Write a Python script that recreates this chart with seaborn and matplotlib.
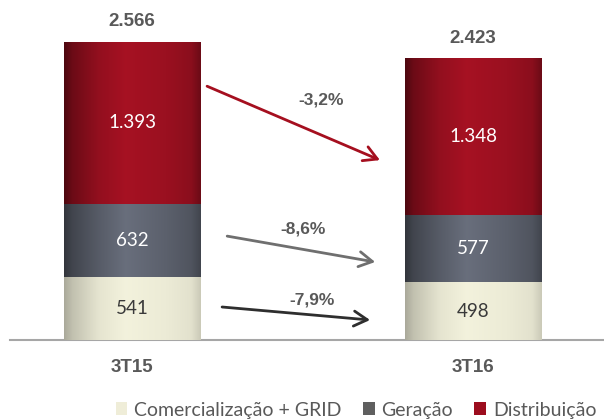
import numpy as np
import pandas as pd
import matplotlib
matplotlib.use("Agg")
import matplotlib.pyplot as plt
import matplotlib.colors as mcolors
from matplotlib.patches import Patch
import seaborn as sns

# ---- data ----
categories = ["3T15", "3T16"]
comercializacao = [541, 498]
geracao = [632, 577]
distribuicao = [1393, 1348]
totals = ["2.566", "2.423"]
comercializacao_labels = ["541", "498"]
geracao_labels = ["632", "577"]
distribuicao_labels = ["1.393", "1.348"]
series_names = ["Comercialização + GRID", "Geração", "Distribuição"]
pct_labels = ["-7,9%", "-8,6%", "-3,2%"]

sns.set_theme(style="white")
plt.rcParams['font.family'] = ['Lato', 'DejaVu Sans']

colors = ["#ecebd6", "#5b606c", "#9a1020"]
legend_colors = ["#efedd8", "#5f5f5f", "#9c0d1e"]

fig = plt.figure(figsize=(6.04, 4.19), dpi=100)
W, H = 604, 419
ax = fig.add_axes([10 / W, (H - 340) / H, 594 / W, 340 / H])

df = pd.DataFrame({
    "cat": categories,
    "c1": comercializacao,
    "c2": np.array(comercializacao) + np.array(geracao),
    "c3": np.array(comercializacao) + np.array(geracao) + np.array(distribuicao),
})

layers = ["c3", "c2", "c1"]
layer_colors = [colors[2], colors[1], colors[0]]

# brightness profile for cylinder effect
t = np.linspace(0, 1, 200)
prof_x = [0.0, 0.06, 0.25, 0.45, 0.75, 0.93, 1.0]
profiles = {
    colors[2]: [0.5, 0.7, 0.95, 1.08, 1.0, 0.9, 0.7],
    colors[1]: [0.55, 0.72, 0.95, 1.15, 1.0, 0.88, 0.72],
    colors[0]: [0.72, 0.82, 0.97, 1.03, 1.0, 0.96, 0.86],
}

for i, (col, c) in enumerate(zip(layers, layer_colors)):
    n_before = len(ax.patches)
    sns.barplot(data=df, x="cat", y=col, color=c, width=0.4, ax=ax,
                saturation=1, zorder=2 + i * 2, linewidth=0)
    base = np.array(mcolors.to_rgb(c))
    prof = np.interp(t, prof_x, profiles[c])
    img = np.clip(base[None, :] * prof[:, None], 0, 1)[None, :, :]
    for p in ax.patches[n_before:]:
        x0, y0 = p.get_x(), p.get_y()
        w, h = p.get_width(), p.get_height()
        im = ax.imshow(img, extent=[x0, x0 + w, y0, y0 + h], aspect="auto",
                       zorder=2 + i * 2 + 0.5, interpolation="bilinear")
        im.set_clip_path(p)

ax.set_xlim(-0.358, 1.384)
ax.set_ylim(0, 2926)
ax.set_xlabel("")
ax.set_ylabel("")
ax.set_yticks([])
ax.set_xticks([0, 1])
ax.set_xticklabels(categories, fontsize=13.5, fontweight="bold", color="#595959",
                   family=["Liberation Sans"])
ax.tick_params(axis="x", length=0, pad=14)
ax.set_xticks([0.5], minor=True)
ax.tick_params(axis="x", which="minor", length=4, color="#a6a6a6", width=1)
for s in ["left", "right", "top"]:
    ax.spines[s].set_visible(False)
ax.spines["bottom"].set_color("#a6a6a6")
ax.spines["bottom"].set_linewidth(1.5)

# segment labels
for j in range(2):
    c1 = comercializacao[j]
    g = geracao[j]
    d = distribuicao[j]
    ax.text(j, c1 / 2, comercializacao_labels[j], ha="center", va="center",
            fontsize=13.5, color="#3a3a3a", zorder=20)
    ax.text(j, c1 + g / 2, geracao_labels[j], ha="center", va="center",
            fontsize=13.5, color="white", zorder=20)
    ax.text(j, c1 + g + d / 2, distribuicao_labels[j], ha="center", va="center",
            fontsize=13.5, color="white", zorder=20)
    ax.text(j, c1 + g + d + 100, totals[j], ha="center", va="bottom",
            fontsize=13.5, fontweight="bold", color="#595959",
            family=["Liberation Sans"], zorder=20)

# arrows
arrow_specs = [
    ((0.264, 284), (0.698, 172), "#2e2e2e", (0.528, 345)),
    ((0.279, 894), (0.713, 671), "#6f6f6f", (0.501, 955)),
    ((0.220, 2184), (0.727, 1548), "#a50f1f", (0.555, 2064)),
]
for (s, e, col, lp), lab in zip(arrow_specs, pct_labels):
    ax.annotate("", xy=e, xytext=s,
                arrowprops=dict(arrowstyle="->,head_length=0.8,head_width=0.45",
                                color=col, lw=2, shrinkA=0, shrinkB=0),
                zorder=15)
    ax.text(lp[0], lp[1], lab, ha="center", va="center", fontsize=12.5,
            fontweight="bold", color="#595959", family=["Liberation Sans"])

handles = [Patch(facecolor=c, edgecolor="none") for c in legend_colors]
fig.legend(handles, series_names, loc="center", bbox_to_anchor=(356 / W, 9 / H),
           ncol=3, frameon=False, fontsize=14, handlelength=0.6, handleheight=0.6,
           handletextpad=0.35, columnspacing=1.1, labelcolor="#595959",
           borderpad=0)

fig.savefig("out.png", dpi=100)
